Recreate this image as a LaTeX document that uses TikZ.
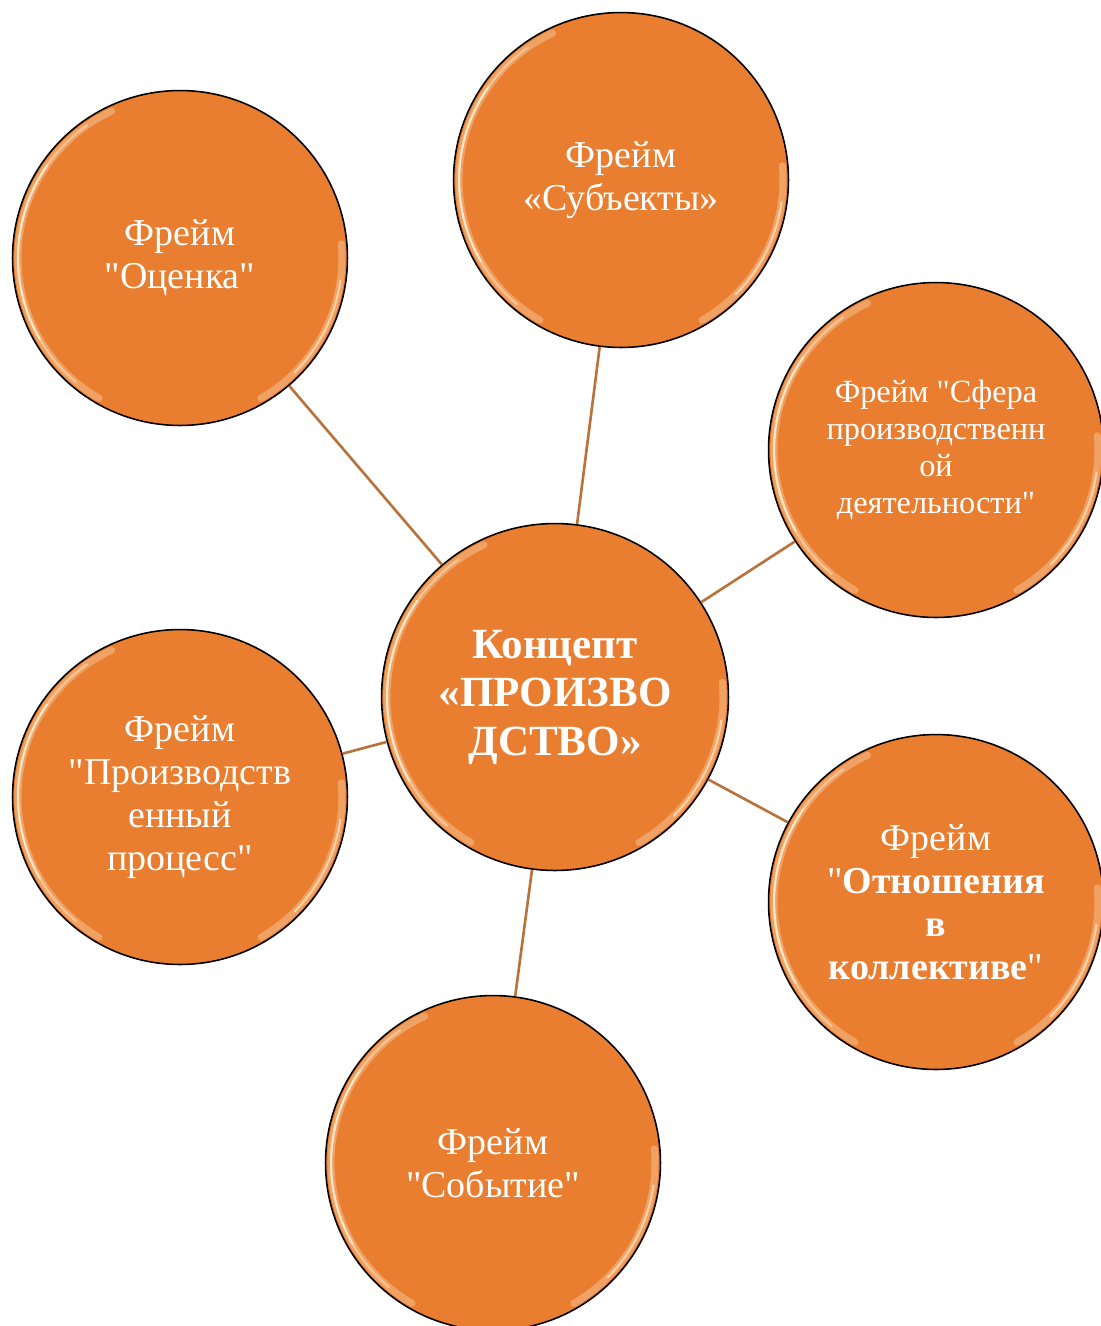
\documentclass[tikz,border=0pt]{standalone}
\usepackage{fontspec}
\setmainfont{Liberation Serif}
\usepackage{tikz}
\definecolor{framefill}{HTML}{E97E31}
\definecolor{linkcol}{HTML}{B8733A}
\definecolor{glosscol}{HTML}{FFE6C4}
\tikzset{frame/.style={circle, draw=black, line width=0.9pt, fill=framefill, minimum size=6.7cm, inner sep=0pt, text=white, align=center, font=\fontsize{21.6}{24.4}\selectfont},
         concept/.style={frame, minimum size=6.94cm, font=\bfseries\fontsize{24.5}{27.6}\selectfont},
         link/.style={draw=linkcol, line width=1.5pt},
         gloss/.style={draw=glosscol, line width=1.2pt, line cap=round},
         glossband/.style={draw=glosscol, line width=4pt, line cap=round, opacity=0.35}}
\newcommand{\qt}{\textquotedbl}

\begin{document}
\begin{tikzpicture}[x=0.02cm, y=-0.02cm]
    \useasboundingbox (0,0) rectangle (1101,1326);
    \node[concept] (konc) at (555,697) {Концепт\\«ПРОИЗВО\\ДСТВО»};
    \node[frame] (ocen) at (180,258) {Фрейм\\\qt Оценка\qt};
    \node[frame] (subj) at (621,180) {Фрейм\\«Субъекты»};
    \node[frame, font=\fontsize{18.4}{21}\selectfont] (sfer) at (936,450) {Фрейм \qt Сфера\\производственн\\ой\\деятельности\qt};
    \node[frame] (proc) at (180,797) {Фрейм\\\qt Производств\\енный\\процесс\qt};
    \node[frame] (otno) at (936,902) {Фрейм\\\qt\textbf{Отношения}\\\textbf{в}\\\textbf{коллективе}\qt};
    \node[frame] (soby) at (493,1163) {Фрейм\\\qt Событие\qt};
    \foreach \f in {ocen,subj,sfer,proc,otno,soby}
        \draw[link] (konc) -- (\f);
    \foreach \f/\r in {ocen/3.24,subj/3.24,sfer/3.24,proc/3.24,otno/3.24,soby/3.24,konc/3.36}{
        \draw[glossband] ([shift={(115:\r cm)}]\f.center) arc[start angle=115, end angle=240, radius=\r cm];
        \draw[gloss, opacity=0.5] ([shift={(125:\r cm)}]\f.center) arc[start angle=125, end angle=230, radius=\r cm];
        \draw[gloss] ([shift={(145:\r cm)}]\f.center) arc[start angle=145, end angle=210, radius=\r cm];
        \draw[glossband] ([shift={(-60:\r cm)}]\f.center) arc[start angle=-60, end angle=5, radius=\r cm];
        \draw[gloss, opacity=0.7] ([shift={(-45:\r cm)}]\f.center) arc[start angle=-45, end angle=-8, radius=\r cm];
    }
\end{tikzpicture}
\end{document}
